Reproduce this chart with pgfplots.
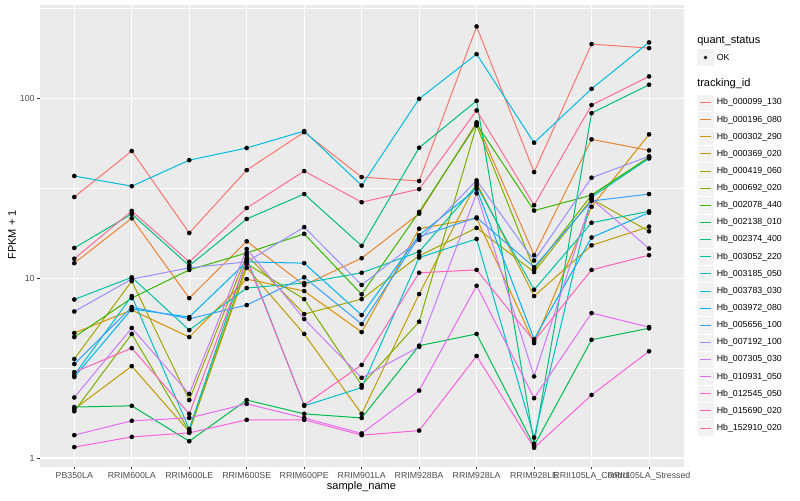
\documentclass[border=0pt]{standalone}
\usepackage{fontspec}
\setmainfont{Liberation Sans}
\usepackage{pgfplots}
\usepackage{pgfplotstable}
\pgfplotsset{compat=1.18}

\definecolor{ggbg}{HTML}{EBEBEB}
\definecolor{ggkey}{HTML}{F2F2F2}
\definecolor{gg20}{HTML}{333333}
\definecolor{gg30}{HTML}{4D4D4D}
\definecolor{c01}{HTML}{F8766D}
\definecolor{c02}{HTML}{EA8331}
\definecolor{c03}{HTML}{D89000}
\definecolor{c04}{HTML}{C09B00}
\definecolor{c05}{HTML}{A3A500}
\definecolor{c06}{HTML}{7CAE00}
\definecolor{c07}{HTML}{39B600}
\definecolor{c08}{HTML}{00BB4E}
\definecolor{c09}{HTML}{00BF7D}
\definecolor{c10}{HTML}{00C1A3}
\definecolor{c11}{HTML}{00BFC4}
\definecolor{c12}{HTML}{00BAE0}
\definecolor{c13}{HTML}{00B0F6}
\definecolor{c14}{HTML}{35A2FF}
\definecolor{c15}{HTML}{9590FF}
\definecolor{c16}{HTML}{C77CFF}
\definecolor{c17}{HTML}{E76BF3}
\definecolor{c18}{HTML}{FA62DB}
\definecolor{c19}{HTML}{FF62BC}
\definecolor{c20}{HTML}{FF6C91}

% FPKM + 1 per sample (rows) and tracking_id (columns s01..s20, legend order)
\pgfplotstableread{
x  s01   s02   s03   s04   s05   s06   s07   s08   s09   s10   s11   s12   s13   s14   s15   s16   s17   s18   s19   s20
0  28.2  12.1  4.95  1.87  3.55  1.82  4.70  1.92  14.7  7.60  2.89  36.9  2.82  3.33  6.52  2.17  1.34  1.15  3.00  12.8
1  50.8  21.5  6.64  3.24  9.62  4.89  7.74  1.95  22.7  10.1  7.94  32.4  6.73  6.90  9.87  5.28  1.61  1.31  4.08  23.6
2  17.8  7.74  4.70  1.40  2.10  1.41  11.1  1.24  11.7  5.14  1.45  45.2  6.07  5.94  11.4  2.27  1.67  1.38  1.76  12.3
3  39.8  16.0  9.87  11.4  13.4  12.0  13.8  2.10  21.3  8.80  12.9  52.8  12.3  7.08  12.3  14.5  2.00  1.63  12.6  24.5
4  64.7  9.15  8.47  4.89  6.31  7.64  17.6  1.76  29.3  9.38  1.95  65.6  12.1  10.1  19.2  5.92  1.67  1.63  1.97  39.3
5  36.4  12.9  5.01  1.76  7.64  2.54  8.12  1.67  15.1  10.7  2.46  32.7  6.23  5.55  9.15  2.79  1.37  1.34  3.29  26.4
6  34.6  22.8  18.8  8.15  13.3  5.72  23.3  4.21  53.0  14.0  13.0  99.1  17.3  17.0  16.3  4.15  2.37  1.42  10.7  31.2
7  250   73.3  21.5  33.8  19.0  70.5  71.7  4.89  96.6  32.7  16.5  175.6 31.3  21.7  34.9  29.6  9.06  3.69  11.1  85.4
8  38.8  13.4  4.35  7.94  10.8  11.2  23.7  1.17  1.20  8.61  1.30  56.5  4.58  11.5  12.5  2.84  2.15  1.14  4.47  25.4
9  199.5 59.0  24.9  15.2  27.5  28.9  28.9  4.54  82.5  20.3  28.2  112.6 16.8  26.8  36.1  27.5  6.39  2.24  11.1  91.5
10 189.6 51.2  62.9  19.3  18.2  47.0  46.8  5.26  118.6 23.5  46.2  203.9 23.1  29.3  47.5  14.6  5.34  3.92  13.4  132.0
}\fpkm

\newcommand{\ticklab}{\fontsize{6.6}{7.5}\selectfont}
\newcommand{\titlef}{\fontsize{8.25}{9.5}\selectfont}

\begin{document}
\begin{tikzpicture}
\path[use as bounding box] (0,0) rectangle (600pt,375pt);
\begin{axis}[
  at={(29.85pt,24.98pt)}, anchor=south west,
  width=482.8pt, height=345.9pt, scale only axis,
  axis background/.style={fill=ggbg},
  axis line style={draw=none},
  xmin=-0.6, xmax=10.6,
  ymode=log, ymin=0.895, ymax=327,
  xtick={0,...,10},
  xticklabels={PB350LA,RRIM600LA,RRIM600LE,RRIM600SE,RRIM600PE,RRIM901LA,RRIM928BA,RRIM928LA,RRIM928LE,RRII105LA\_Control,RRII105LA\_Stressed},
  ytick={1,10,100}, yticklabels={1,10,100},
  minor ytick={3.16228,31.6228,316.228},
  xtick pos=left, ytick pos=left,
  tick align=outside,
  major tick length=2.06pt, minor tick length=0pt,
  tick style={gg20, line width=0.5pt},
  tick label style={font=\ticklab, text=gg30, inner sep=0pt},
  xticklabel style={anchor=north, yshift=-1.65pt},
  yticklabel style={anchor=east, xshift=-1.65pt},
  xmajorgrids, ymajorgrids, yminorgrids,
  major grid style={white, line width=0.8pt},
  minor grid style={white, line width=0.4pt},
]
% lines first, then all points on top
\pgfplotsinvokeforeach{01,02,03,04,05,06,07,08,09,10,11,12,13,14,15,16,17,18,19,20}{
  \addplot[c#1, line width=0.75pt, mark=none] table[x=x, y=s#1] {\fpkm};
}
\pgfplotsinvokeforeach{01,02,03,04,05,06,07,08,09,10,11,12,13,14,15,16,17,18,19,20}{
  \addplot[only marks, mark=*, mark size=1.6pt, black, fill=black, line width=0.2pt] table[x=x, y=s#1] {\fpkm};
}
\end{axis}

% axis titles
\node[font=\titlef, inner sep=0pt] at (271.1pt,9.75pt) {sample\_name};
\node[font=\titlef, inner sep=0pt, rotate=90] at (9pt,198.75pt) {FPKM + 1};

% legend
\node[font=\titlef, anchor=west, inner sep=0pt] at (522.75pt,344.25pt) {quant\_status};
\fill[ggkey] (522.75pt,325.5pt) rectangle (535.5pt,338.25pt);
\fill[black] (529.1pt,331.9pt) circle (1.4pt);
\node[font=\ticklab, anchor=west, inner sep=0pt] at (537.4pt,331.9pt) {OK};
\node[font=\titlef, anchor=west, inner sep=0pt] at (522.75pt,312pt) {tracking\_id};
\foreach \c/\lab [count=\i from 0] in {c01/000099\_130,c02/000196\_080,c03/000302\_290,c04/000369\_020,
  c05/000419\_060,c06/000692\_020,c07/002078\_440,c08/002138\_010,c09/002374\_400,c10/003052\_220,
  c11/003185\_050,c12/003783\_030,c13/003972\_080,c14/005656\_100,c15/007192\_100,c16/007305\_030,
  c17/010931\_050,c18/012545\_050,c19/015690\_020,c20/152910\_020}{
  \pgfmathsetmacro{\yc}{298.07-12.85*\i}
  \filldraw[fill=ggkey, draw=white, line width=0.5pt] (522.75pt,\yc pt-6.42pt) rectangle (535.5pt,\yc pt+6.42pt);
  \draw[\c, line width=0.75pt] (525pt,\yc pt) -- (533.3pt,\yc pt);
  \node[font=\ticklab, anchor=west, inner sep=0pt] at (537.4pt,\yc pt) {Hb\_\lab};
}
\end{tikzpicture}
\end{document}
